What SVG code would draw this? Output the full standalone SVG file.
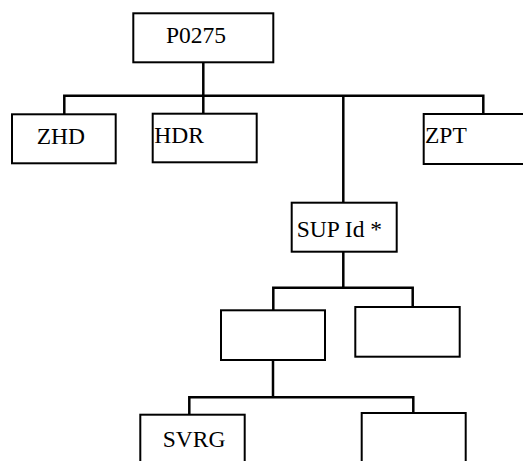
<svg xmlns="http://www.w3.org/2000/svg" width="523" height="461" viewBox="0 0 523 461">
<style>
.box{fill:#fff;stroke:#000;stroke-width:2}
.t{font-size:23.5px;fill:#000}
.c{stroke:#000;stroke-width:2.5;fill:none;stroke-linecap:square}
</style>
<rect width="523" height="461" fill="#fff"/>
<g id="connectors">
<path class="c" d="M203.3 63.3V95.7M64.3 95.7H483.3M64.3 95.7V113M203.3 95.7V112.5M343.3 95.7V201.5M483.3 95.7V113"/>
<path class="c" d="M343.3 252.7V287.7M273.3 287.7H412.7M273.3 287.7V309M412.7 287.7V306"/>
<path class="c" d="M273 361V397.3M189.3 397.3H413.3M189.3 397.3V413.5M413.3 397.3V412"/>
</g>
<g font-family="'Liberation Serif', 'DejaVu Serif', serif">
<g id="P0275"><rect class="box" x="133.3" y="13.3" width="140" height="49"/><text class="t" x="166" y="43.3">P0275</text></g>
<g id="ZHD"><rect class="box" x="12" y="114.3" width="103.7" height="49"/><text class="t" x="36.7" y="144.3">ZHD</text></g>
<g id="HDR"><rect class="box" x="152.7" y="113.7" width="104" height="48.6"/><text class="t" x="154.3" y="142.7">HDR</text></g>
<g id="ZPT"><rect class="box" x="423.7" y="114" width="110" height="50"/><text class="t" x="425" y="143.3">ZPT</text></g>
<g id="SUP"><rect class="box" x="291.7" y="202.7" width="105" height="49"/><text class="t" x="296.7" y="236.7">SUP Id *</text></g>
<g id="empty1"><rect class="box" x="221" y="310.3" width="104" height="49.7"/></g>
<g id="empty2"><rect class="box" x="355.3" y="307" width="104.4" height="49.7"/></g>
<g id="SVRG"><rect class="box" x="140.3" y="414.7" width="104.4" height="60"/><text class="t" x="162.7" y="446.7">SVRG</text></g>
<g id="empty3"><rect class="box" x="361.7" y="413" width="104" height="60"/></g>
</g>
</svg>
